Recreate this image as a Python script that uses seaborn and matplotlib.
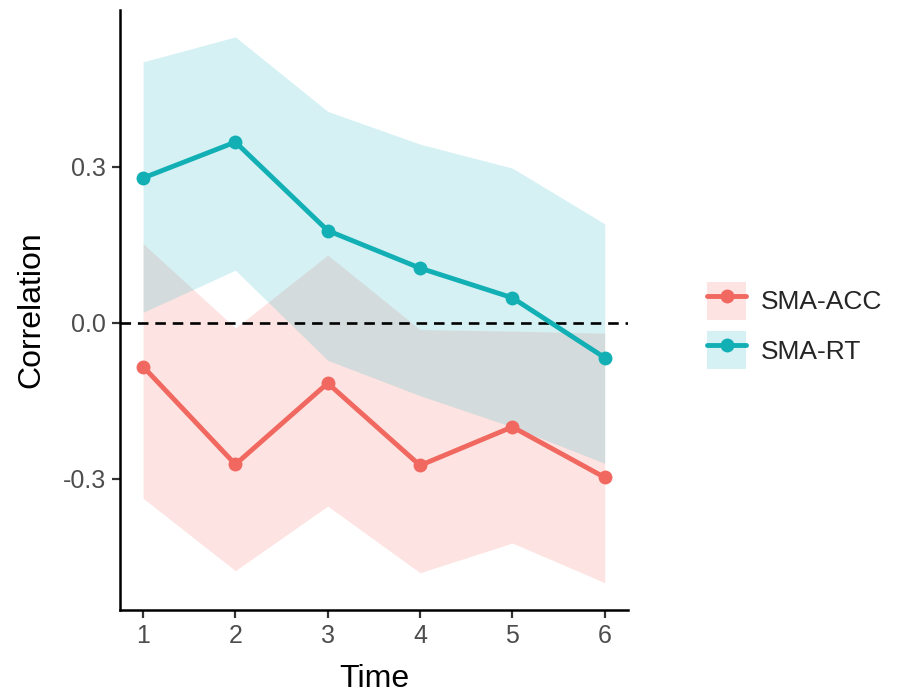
import numpy as np
import pandas as pd
import matplotlib
matplotlib.use("Agg")
import matplotlib.pyplot as plt
import seaborn as sns
from matplotlib.lines import Line2D
from matplotlib.patches import Patch

# Correlation over time with confidence bands
time = [1, 2, 3, 4, 5, 6]
series = ["SMA-ACC", "SMA-RT"]

acc_r = [-0.084, -0.272, -0.116, -0.274, -0.200, -0.297]
acc_lo = [-0.337, -0.476, -0.352, -0.480, -0.423, -0.499]
acc_hi = [0.152, -0.010, 0.130, -0.013, -0.016, -0.020]

rt_r = [0.278, 0.347, 0.177, 0.105, 0.048, -0.067]
rt_lo = [0.020, 0.101, -0.072, -0.140, -0.200, -0.270]
rt_hi = [0.501, 0.549, 0.406, 0.343, 0.297, 0.190]

colors = {"SMA-ACC": "#F0685F", "SMA-RT": "#12B0B4"}
fills = {"SMA-ACC": "#F8766D", "SMA-RT": "#30BCCB"}

df = pd.DataFrame({
    "Time": time * 2,
    "Correlation": acc_r + rt_r,
    "lo": acc_lo + rt_lo,
    "hi": acc_hi + rt_hi,
    "Series": [series[0]] * 6 + [series[1]] * 6,
})

sns.set_theme(style="white")
plt.rcParams["font.family"] = ["Liberation Sans", "DejaVu Sans"]

fig = plt.figure(figsize=(9.02, 7.0), dpi=100)
ax = fig.add_axes([0.133, 0.129, 0.563, 0.857])

# confidence ribbons
for name in series:
    sub = df[df["Series"] == name]
    ax.fill_between(sub["Time"], sub["lo"], sub["hi"], color=fills[name],
                    alpha=0.2, linewidth=0, zorder=1)

ax.axhline(0, color="black", linestyle=(0, (4, 2.6)), linewidth=1.9, zorder=2)

sns.lineplot(data=df, x="Time", y="Correlation", hue="Series",
             palette=colors, marker="o", markersize=10, markeredgewidth=0,
             linewidth=3.5, ax=ax, legend=False, zorder=3)

ax.set_xlim(0.75, 6.25)
ax.set_ylim(-0.551, 0.601)
ax.set_xticks(time)
ax.set_yticks([-0.3, 0.0, 0.3])
ax.set_yticklabels(["-0.3", "0.0", "0.3"])

for side in ["top", "right"]:
    ax.spines[side].set_visible(False)
for side in ["left", "bottom"]:
    ax.spines[side].set_color("black")
    ax.spines[side].set_linewidth(1.8)

ax.tick_params(axis="both", which="major", length=6, width=1.6,
               color="#333333", labelsize=18, labelcolor="#4D4D4D", pad=4,
               bottom=True, left=True)
ax.set_xlabel("Time", fontsize=23, color="black", labelpad=12)
ax.set_ylabel("Correlation", fontsize=23, color="black", labelpad=12)

handles = []
for name in series:
    patch = Patch(facecolor=fills[name], alpha=0.2, linewidth=0)
    line = Line2D([], [], color=colors[name], linewidth=3.5, marker="o",
                  markersize=10, markeredgewidth=0)
    handles.append((patch, line))

fig.legend(handles, series, loc="center left", bbox_to_anchor=(0.772, 0.535),
           frameon=False, fontsize=19, handlelength=1.5, handleheight=1.8,
           handletextpad=0.55, labelspacing=0.45, borderaxespad=0)

fig.savefig("out.png", dpi=100)
